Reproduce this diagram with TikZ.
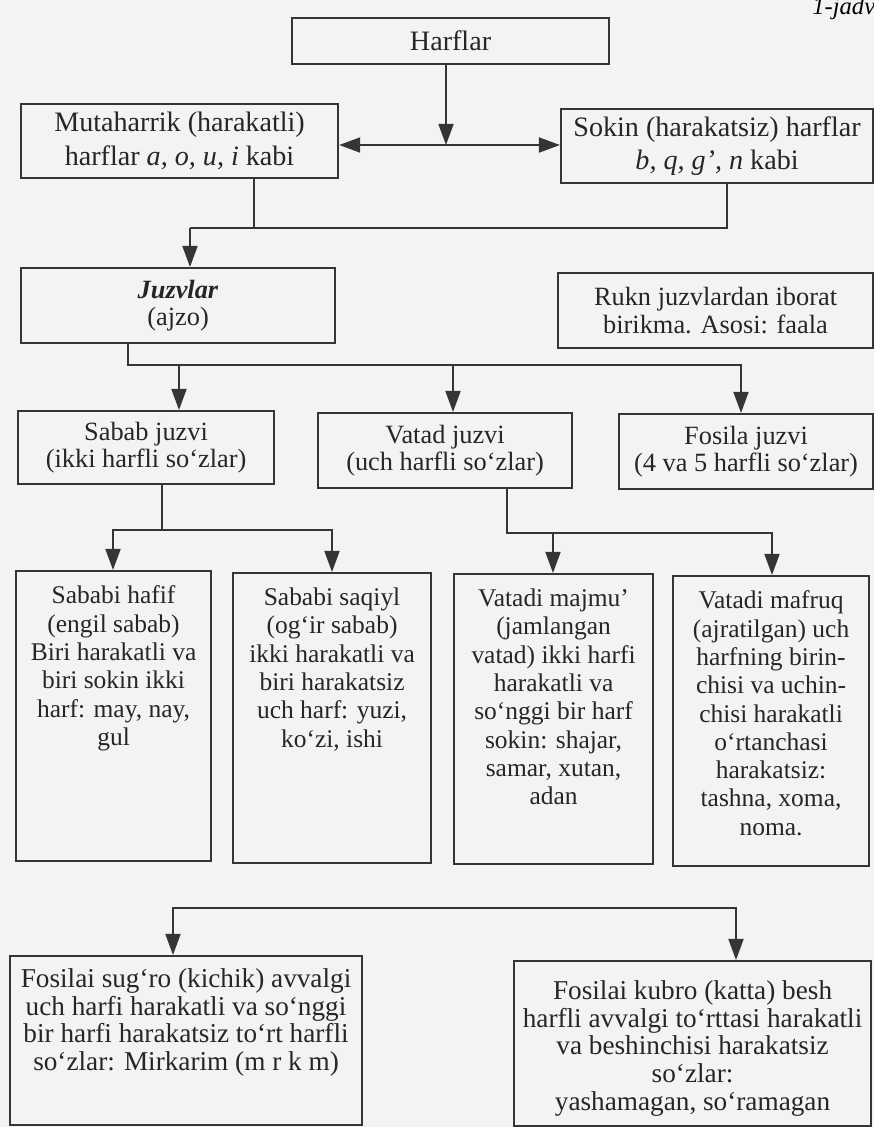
\documentclass[tikz,border=0pt]{standalone}
\usepackage{fontspec}
\setmainfont{Liberation Serif}
\usetikzlibrary{arrows.meta}
\newdimen\pxu \pxu=0.02cm
\newcommand\boxtxt[3]{\parbox[c][#2\pxu][c]{#1\pxu}{\centering #3}}
\newcommand\tallbox[4][8.5pt]{\parbox[c][#3\pxu][t]{#2\pxu}{\vspace*{#1}\centering #4}}
\definecolor{ink}{HTML}{353535}
\definecolor{paper}{HTML}{F3F3F3}
\tikzset{
	box/.style={draw=ink, line width=1.2pt, inner sep=0pt, anchor=north west, text=black!85},
	big/.style={font=\fontsize{16}{19}\selectfont},
	mid/.style={font=\fontsize{15}{15.6}\selectfont},
	small/.style={font=\fontsize{14.5}{16.1}\selectfont},
	low/.style={font=\fontsize{15.5}{15.8}\selectfont},
	line/.style={draw=ink, line width=1.2pt},
	arr/.style={line, -{Triangle[length=12pt,width=8.5pt]}},
	arrs/.style={line, {Triangle[length=12pt,width=8.5pt]}-{Triangle[length=12pt,width=8.5pt]}}
}

\begin{document}
\begin{tikzpicture}[x=0.02cm, y=-0.02cm]
			%%%%% START %%%%%
			
			\fill[paper] (0, 0) rectangle (874, 1127);
			\useasboundingbox (0, 0) rectangle (874, 1127);
			
			\node[anchor=north west, inner sep=0pt, font=\itshape\fontsize{14}{14}\selectfont] (jadval) at (812, -3) {1-jadval};
			
			\node[box, big] (harf) at (291, 17) {\boxtxt{317}{46}{Harflar}};
			\node[box, big] (muta) at (20, 103) {\boxtxt{317}{74}{Mutaharrik (harakatli)\\harflar \textit{a, o, u, i} kabi}};
			\node[box, big] (sokin) at (560, 108) {\boxtxt{312}{74}{Sokin (harakatsiz) harflar\\\textit{b, q, g’, n} kabi}};
			
			\node[box, mid] (juzv) at (20, 267) {\boxtxt{314}{75}{\textbf{\textit{Juzvlar}}\\(ajzo)}};
			\node[box, mid] (rukn) at (557, 272) {\boxtxt{315}{75}{Rukn juzvlardan iborat\\birikma. Asosi: faala}};
			
			\node[box, mid] (sabab) at (17, 410) {\boxtxt{256}{73}{Sabab juzvi\\(ikki harfli so‘zlar)}};
			\node[box, mid] (vatad) at (317, 412) {\boxtxt{254}{75}{Vatad juzvi\\(uch harfli so‘zlar)}};
			\node[box, mid] (fosila) at (618, 413) {\boxtxt{254}{75}{Fosila juzvi\\(4 va 5 harfli so‘zlar)}};
			
			\node[box, small] (hafif) at (15, 570) {\tallbox{195}{290}{Sababi hafif\\(engil sabab)\\Biri harakatli va\\biri sokin ikki\\harf: may, nay,\\gul}};
			\node[box, small] (saqiyl) at (232, 572) {\tallbox{198}{290}{Sababi saqiyl\\(og‘ir sabab)\\ikki harakatli va\\biri harakatsiz\\uch harf: yuzi,\\ko‘zi, ishi}};
			\node[box, small] (majmu) at (453, 573) {\tallbox{199}{290}{Vatadi majmu’\\(jamlangan\\vatad) ikki harfi\\harakatli va\\so‘nggi bir harf\\sokin: shajar,\\samar, xutan,\\adan}};
			\node[box, small] (mafruq) at (672, 575) {\tallbox{196}{290}{Vatadi mafruq\\(ajratilgan) uch\\harfning birin-\\chisi va uchin-\\chisi harakatli\\o‘rtanchasi\\harakatsiz:\\tashna, xoma,\\noma.}};
			
			\node[box, low] (sugro) at (9, 955) {\tallbox[7pt]{352}{169}{Fosilai sug‘ro (kichik) avvalgi\\uch harfi harakatli va so‘nggi\\bir harfi harakatsiz to‘rt harfli\\so‘zlar: Mirkarim (m r k m)}};
			\node[box, low] (kubro) at (513, 960) {\tallbox[11pt]{357}{165}{Fosilai kubro (katta) besh\\harfli avvalgi to‘rttasi harakatli\\va beshinchisi harakatsiz\\so‘zlar:\\yashamagan, so‘ramagan}};
			
			\coordinate (hub) at (446, 145);
			\draw[arr] (hub |- harf.south) -- (hub);
			\draw[arrs] (muta.east |- hub) -- (sokin.west |- hub);
			
			\coordinate (jn) at (190, 228);
			\draw[line] (254, 0 |- muta.south) -- (254, 228);
			\draw[line] (727, 0 |- sokin.south) |- (jn);
			\draw[arr] (jn) -- (jn |- juzv.north);
			
			\coordinate (ja) at (128, 365);
			\draw[arr] (ja |- juzv.south) |- (741, 365) -- (741, 0 |- fosila.north);
			\draw[arr] (179, 365) -- (179, 0 |- sabab.north);
			\draw[arr] (453, 365) -- (453, 0 |- vatad.north);
			
			\coordinate (sb) at (162, 530);
			\draw[line] (sb |- sabab.south) -- (sb);
			\draw[arr] (sb) -| (113, 0 |- hafif.north);
			\draw[arr] (sb) -| (332, 0 |- saqiyl.north);
			
			\coordinate (vt) at (507, 533);
			\draw[arr] (vt |- vatad.south) -- (vt) -| (772, 0 |- mafruq.north);
			\draw[arr] (553, 533) -- (553, 0 |- majmu.north);
			
			\coordinate (fl) at (173, 908);
			\coordinate (fr) at (736, 908);
			\draw[arr] (fr) -- (fl) -- (fl |- sugro.north);
			\draw[arr] (fl) -- (fr) -- (fr |- kubro.north);
			
			%%%%% END %%%%%
\end{tikzpicture}
\end{document}
